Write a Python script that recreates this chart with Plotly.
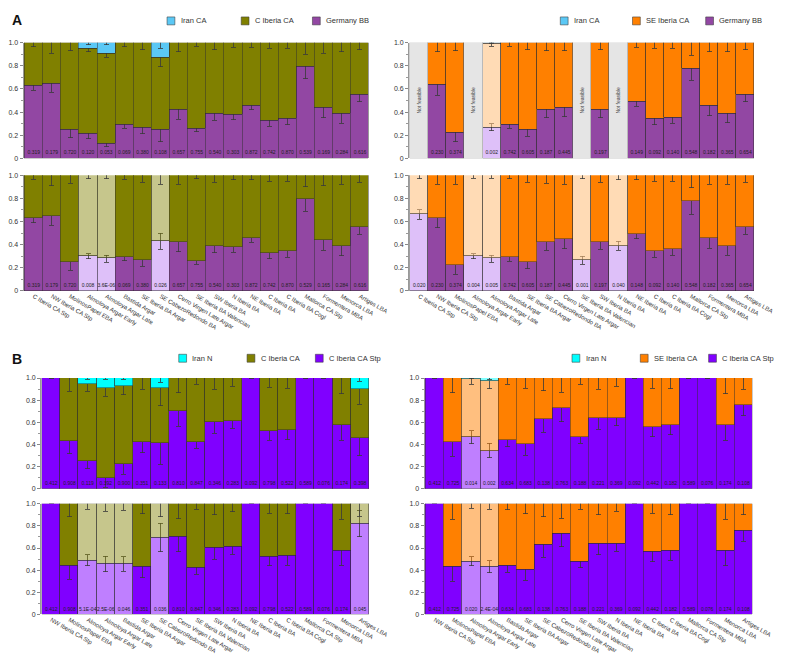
import plotly.graph_objects as go

W, H = 785, 654

# ---------------- categories ----------------
cats_A = ["C Iberia CA Stp", "NW Iberia CA Stp", "MolinosPapel EBA", "Almoloya Argar Early",
          "Almoloya Argar Late", "Bastida Argar", "SE Iberia BA Argar", "SE CabezoRedondo BA",
          "Cerro Virgen Late Argar", "SE Iberia BA Valencian", "SW Iberia BA", "N Iberia BA",
          "NE Iberia BA", "C Iberia BA", "C Iberia BA Cogl", "Mallorca CA Stp", "Formentera MBA",
          "Menorca LBA", "Artiges LBA"]
cats_B = ["NW Iberia CA Stp", "MolinosPapel EBA", "Almoloya Argar Early",
          "Almoloya Argar Late", "Bastida Argar", "SE Iberia BA Argar", "SE CabezoRedondo BA",
          "Cerro Virgen Late Argar", "SE Iberia BA Valencian", "SW Iberia BA", "N Iberia BA",
          "NE Iberia BA", "C Iberia BA", "C Iberia BA Cogl", "Mallorca CA Stp", "Formentera MBA",
          "Menorca LBA", "Artiges LBA"]

# ---------------- Panel A, top-left (Iran CA / C Iberia CA / Germany BB) ----------------
A1_germany = [0.63, 0.65, 0.25, 0.21, 0.13, 0.29, 0.265, 0.245, 0.42, 0.26, 0.39, 0.375, 0.46, 0.33, 0.34, 0.79, 0.44, 0.385, 0.55]
A1_germany_err = [0.04, 0.08, 0.07, 0.04, 0.03, 0.03, 0.05, 0.10, 0.08, 0.03, 0.06, 0.04, 0.04, 0.05, 0.05, 0.10, 0.09, 0.08, 0.06]
A1_ciberia = [0.37, 0.35, 0.75, 0.74, 0.775, 0.71, 0.735, 0.625, 0.58, 0.74, 0.61, 0.625, 0.54, 0.67, 0.66, 0.21, 0.56, 0.615, 0.45]
A1_ciberia_err = [0.035, 0.09, 0.07, 0.03, 0.03, 0.035, 0.06, 0.08, 0.08, 0.03, 0.06, 0.04, 0.04, 0.05, 0.05, 0.10, 0.09, 0.08, 0.06]
A1_iran = [None, None, None, 0.05, 0.095, None, None, 0.13, None, None, None, None, None, None, None, None, None, None, None]
A1_iran_err = [None, None, None, 0.02, 0.02, None, None, 0.05, None, None, None, None, None, None, None, None, None, None, None]
A1_light = [0] * 19
A1_p = ["0.319", "0.179", "0.720", "0.120", "0.053", "0.069", "0.380", "0.108", "0.657", "0.755",
        "0.540", "0.303", "0.872", "0.742", "0.870", "0.539", "0.169", "0.284", "0.616"]

# ---------------- Panel A, bottom-left (C Iberia CA / Germany BB) ----------------
A2_germany = [0.63, 0.65, 0.25, 0.30, 0.28, 0.29, 0.265, 0.43, 0.42, 0.26, 0.39, 0.375, 0.46, 0.33, 0.34, 0.79, 0.44, 0.385, 0.55]
A2_germany_err = [0.04, 0.08, 0.07, 0.02, 0.03, 0.03, 0.05, 0.07, 0.08, 0.03, 0.06, 0.04, 0.04, 0.05, 0.05, 0.10, 0.09, 0.08, 0.06]
A2_ciberia = [0.37, 0.35, 0.75, 0.70, 0.72, 0.71, 0.735, 0.57, 0.58, 0.74, 0.61, 0.625, 0.54, 0.67, 0.66, 0.21, 0.56, 0.615, 0.45]
A2_ciberia_err = [0.035, 0.09, 0.07, 0.03, 0.03, 0.035, 0.06, 0.08, 0.08, 0.03, 0.06, 0.04, 0.04, 0.05, 0.05, 0.10, 0.09, 0.08, 0.06]
A2_light = [0, 0, 0, 1, 1, 0, 0, 1, 0, 0, 0, 0, 0, 0, 0, 0, 0, 0, 0]
A2_p = ["0.319", "0.179", "0.720", "0.008", "3.6E-06", "0.069", "0.380", "0.026", "0.657", "0.755",
        "0.540", "0.303", "0.872", "0.742", "0.870", "0.529", "0.165", "0.284", "0.616"]

# ---------------- Panel A, top-right (Iran CA / SE Iberia CA / Germany BB) ----------------
A3_germany = [None, 0.635, 0.22, None, 0.27, 0.295, 0.25, 0.42, 0.44, None, 0.42, None, 0.49, 0.34, 0.355, 0.775, 0.46, 0.39, 0.55]
A3_germany_err = [None, 0.09, 0.075, None, 0.03, 0.035, 0.06, 0.07, 0.08, None, 0.07, None, 0.04, 0.05, 0.05, 0.10, 0.09, 0.08, 0.06]
A3_seiberia = [None, 0.365, 0.78, None, 0.72, 0.705, 0.75, 0.58, 0.56, None, 0.58, None, 0.51, 0.66, 0.645, 0.225, 0.54, 0.61, 0.45]
A3_seiberia_err = [None, 0.08, 0.07, None, 0.02, 0.03, 0.06, 0.07, 0.07, None, 0.06, None, 0.04, 0.05, 0.05, 0.11, 0.08, 0.08, 0.06]
A3_iran = [None, None, None, None, 0.01, None, None, None, None, None, None, None, None, None, None, None, None, None, None]
A3_iran_err = [None, None, None, None, 0.005, None, None, None, None, None, None, None, None, None, None, None, None, None, None]
A3_light = [0, 0, 0, 0, 1, 0, 0, 0, 0, 0, 0, 0, 0, 0, 0, 0, 0, 0, 0]
A3_notfeasible = [1, None, None, 1, None, None, None, None, None, 1, None, 1, None, None, None, None, None, None, None]
A3_p = [None, "0.230", "0.374", None, "0.002", "0.742", "0.605", "0.187", "0.445", None,
        "0.197", None, "0.149", "0.092", "0.140", "0.548", "0.182", "0.365", "0.654"]

# ---------------- Panel A, bottom-right (SE Iberia CA / Germany BB) ----------------
A4_germany = [0.66, 0.63, 0.22, 0.30, 0.28, 0.295, 0.25, 0.42, 0.445, 0.265, 0.42, 0.39, 0.49, 0.34, 0.36, 0.775, 0.455, 0.39, 0.55]
A4_germany_err = [0.04, 0.085, 0.075, 0.02, 0.03, 0.04, 0.06, 0.07, 0.08, 0.035, 0.06, 0.04, 0.04, 0.05, 0.05, 0.11, 0.085, 0.08, 0.06]
A4_seiberia = [0.34, 0.37, 0.78, 0.70, 0.72, 0.705, 0.75, 0.58, 0.555, 0.735, 0.58, 0.61, 0.51, 0.66, 0.64, 0.225, 0.545, 0.61, 0.45]
A4_seiberia_err = [0.03, 0.08, 0.08, 0.025, 0.025, 0.03, 0.06, 0.07, 0.08, 0.03, 0.06, 0.04, 0.04, 0.05, 0.05, 0.11, 0.08, 0.08, 0.06]
A4_light = [1, 0, 0, 1, 1, 0, 0, 0, 0, 1, 0, 1, 0, 0, 0, 0, 0, 0, 0]
A4_p = ["0.020", "0.230", "0.374", "0.004", "0.005", "0.742", "0.605", "0.187", "0.445", "0.001",
        "0.197", "0.040", "0.148", "0.092", "0.140", "0.548", "0.182", "0.365", "0.654"]

# ---------------- Panel B, top-left (Iran N / C Iberia CA / C Iberia CA Stp) ----------------
B1_stp = [1.0, 0.435, 0.255, 0.095, 0.22, 0.425, 0.41, 0.70, 0.42, 0.60, 0.615, 1.0, 0.525, 0.535, 1.0, 1.0, 0.575, 0.46]
B1_stp_err = [None, 0.12, 0.075, 0.08, 0.09, 0.10, 0.19, 0.135, 0.055, 0.10, 0.07, None, 0.085, 0.09, None, None, 0.135, 0.16]
B1_ciberia = [None, 0.565, 0.695, 0.815, 0.71, 0.575, 0.50, 0.30, 0.58, 0.40, 0.385, None, 0.475, 0.465, None, None, 0.425, 0.44]
B1_ciberia_err = [None, 0.12, 0.07, 0.075, 0.08, 0.10, 0.16, 0.135, 0.055, 0.10, 0.075, None, 0.085, 0.09, None, None, 0.14, 0.135]
B1_iran = [None, None, 0.05, 0.09, 0.07, None, 0.09, None, None, None, None, None, None, None, None, None, None, 0.10]
B1_iran_err = [None, None, 0.01, 0.01, 0.01, None, 0.04, None, None, None, None, None, None, None, None, None, None, 0.03]
B1_light = [0] * 18
B1_p = ["0.412", "0.908", "0.119", "0.392", "0.900", "0.351", "0.133", "0.810", "0.847", "0.346",
        "0.283", "0.092", "0.798", "0.522", "0.589", "0.076", "0.174", "0.398"]

# ---------------- Panel B, bottom-left (C Iberia CA / C Iberia CA Stp) ----------------
B2_stp = [1.0, 0.44, 0.49, 0.455, 0.455, 0.43, 0.695, 0.70, 0.42, 0.60, 0.615, 1.0, 0.525, 0.535, 1.0, 1.0, 0.58, 0.82]
B2_stp_err = [None, 0.12, 0.05, 0.07, 0.065, 0.10, 0.13, 0.135, 0.055, 0.10, 0.07, None, 0.085, 0.09, None, None, 0.135, 0.12]
B2_ciberia = [None, 0.56, 0.51, 0.545, 0.545, 0.57, 0.305, 0.30, 0.58, 0.40, 0.385, None, 0.475, 0.465, None, None, 0.42, 0.18]
B2_ciberia_err = [None, 0.12, 0.05, 0.07, 0.06, 0.09, 0.12, 0.135, 0.05, 0.10, 0.075, None, 0.085, 0.09, None, None, 0.14, 0.115]
B2_light = [0, 0, 1, 1, 1, 0, 1, 0, 0, 0, 0, 0, 0, 0, 0, 0, 0, 1]
B2_p = ["0.412", "0.908", "5.1E-04", "2.5E-06", "0.046", "0.351", "0.036", "0.810", "0.847", "0.346",
        "0.283", "0.092", "0.798", "0.522", "0.589", "0.076", "0.174", "0.045"]

# ---------------- Panel B, top-right (Iran N / SE Iberia CA / C Iberia CA Stp) ----------------
B3_stp = [1.0, 0.425, 0.465, 0.345, 0.44, 0.40, 0.63, 0.73, 0.47, 0.64, 0.64, 1.0, 0.56, 0.58, 1.0, 1.0, 0.58, 0.76]
B3_stp_err = [None, 0.13, 0.06, 0.065, 0.06, 0.095, 0.12, 0.125, 0.06, 0.10, 0.07, None, 0.09, 0.09, None, None, 0.14, 0.10]
B3_seiberia = [None, 0.575, 0.525, 0.625, 0.56, 0.60, 0.37, 0.27, 0.53, 0.36, 0.36, None, 0.44, 0.42, None, None, 0.42, 0.24]
B3_seiberia_err = [None, 0.135, 0.045, 0.065, 0.055, 0.09, 0.115, 0.13, 0.055, 0.10, 0.075, None, 0.09, 0.095, None, None, 0.14, 0.10]
B3_iran = [None, None, 0.01, 0.03, None, None, None, None, None, None, None, None, None, None, None, None, None, None]
B3_iran_err = [None, None, 0.005, 0.01, None, None, None, None, None, None, None, None, None, None, None, None, None, None]
B3_light = [0, 0, 1, 1, 0, 0, 0, 0, 0, 0, 0, 0, 0, 0, 0, 0, 0, 0]
B3_p = ["0.412", "0.725", "0.014", "0.002", "0.634", "0.683", "0.138", "0.763", "0.188", "0.221",
        "0.369", "0.092", "0.442", "0.182", "0.589", "0.076", "0.174", "0.108"]

# ---------------- Panel B, bottom-right (SE Iberia CA / C Iberia CA Stp) ----------------
B4_stp = [1.0, 0.43, 0.48, 0.43, 0.44, 0.40, 0.63, 0.73, 0.475, 0.64, 0.64, 1.0, 0.565, 0.58, 1.0, 1.0, 0.58, 0.76]
B4_stp_err = [None, 0.13, 0.04, 0.055, 0.06, 0.09, 0.115, 0.12, 0.055, 0.10, 0.07, None, 0.09, 0.09, None, None, 0.14, 0.10]
B4_seiberia = [None, 0.57, 0.52, 0.57, 0.56, 0.60, 0.37, 0.27, 0.525, 0.36, 0.36, None, 0.435, 0.42, None, None, 0.42, 0.24]
B4_seiberia_err = [None, 0.14, 0.04, 0.05, 0.055, 0.09, 0.12, 0.13, 0.05, 0.10, 0.07, None, 0.085, 0.10, None, None, 0.14, 0.10]
B4_light = [0, 0, 1, 1, 0, 0, 0, 0, 0, 0, 0, 0, 0, 0, 0, 0, 0, 0]
B4_p = ["0.412", "0.725", "0.020", "2.4E-04", "0.634", "0.683", "0.138", "0.763", "0.188", "0.221",
        "0.369", "0.092", "0.442", "0.182", "0.589", "0.076", "0.174", "0.108"]

# ---------------- colours ----------------
IRAN_CA, IRAN_CA_L = "#5BC8F5", "rgba(91,200,245,0.5)"
OLIVE, OLIVE_L = "#808000", "rgba(128,128,0,0.45)"
GERM, GERM_L = "#9247A3", "rgba(200,150,245,0.6)"
SE, SE_L_A, SE_L_B = "#FF8000", "rgba(255,190,120,0.55)", "rgba(255,128,0,0.5)"
IRAN_N, IRAN_N_L = "#00FFFF", "rgba(0,255,255,0.5)"
STP, STP_L = "#8000FF", "rgba(128,0,255,0.5)"
NF_GRAY = "#E5E5E5"
EDGE = "rgba(45,45,45,0.6)"
ERRC = "#3a3a3a"
FONT = "Liberation Sans, Arial, sans-serif"

panels = [
    dict(ax=1, cats=cats_A, light=A1_light, p=A1_p, nf=None,
         segs=[("Germany BB", A1_germany, A1_germany_err, GERM, GERM_L),
               ("C Iberia CA", A1_ciberia, A1_ciberia_err, OLIVE, OLIVE_L),
               ("Iran CA", A1_iran, A1_iran_err, IRAN_CA, IRAN_CA_L)]),
    dict(ax=2, cats=cats_A, light=A2_light, p=A2_p, nf=None,
         segs=[("Germany BB", A2_germany, A2_germany_err, GERM, GERM_L),
               ("C Iberia CA", A2_ciberia, A2_ciberia_err, OLIVE, OLIVE_L)]),
    dict(ax=3, cats=cats_A, light=A3_light, p=A3_p, nf=A3_notfeasible,
         segs=[("Germany BB", A3_germany, A3_germany_err, GERM, GERM_L),
               ("SE Iberia CA", A3_seiberia, A3_seiberia_err, SE, SE_L_A),
               ("Iran CA", A3_iran, A3_iran_err, IRAN_CA, IRAN_CA_L)]),
    dict(ax=4, cats=cats_A, light=A4_light, p=A4_p, nf=None,
         segs=[("Germany BB", A4_germany, A4_germany_err, GERM, GERM_L),
               ("SE Iberia CA", A4_seiberia, A4_seiberia_err, SE, SE_L_A)]),
    dict(ax=5, cats=cats_B, light=B1_light, p=B1_p, nf=None,
         segs=[("C Iberia CA Stp", B1_stp, B1_stp_err, STP, STP_L),
               ("C Iberia CA", B1_ciberia, B1_ciberia_err, OLIVE, OLIVE_L),
               ("Iran N", B1_iran, B1_iran_err, IRAN_N, IRAN_N_L)]),
    dict(ax=6, cats=cats_B, light=B2_light, p=B2_p, nf=None,
         segs=[("C Iberia CA Stp", B2_stp, B2_stp_err, STP, STP_L),
               ("C Iberia CA", B2_ciberia, B2_ciberia_err, OLIVE, OLIVE_L)]),
    dict(ax=7, cats=cats_B, light=B3_light, p=B3_p, nf=None,
         segs=[("C Iberia CA Stp", B3_stp, B3_stp_err, STP, STP_L),
               ("SE Iberia CA", B3_seiberia, B3_seiberia_err, SE, SE_L_B),
               ("Iran N", B3_iran, B3_iran_err, IRAN_N, IRAN_N_L)]),
    dict(ax=8, cats=cats_B, light=B4_light, p=B4_p, nf=None,
         segs=[("C Iberia CA Stp", B4_stp, B4_stp_err, STP, STP_L),
               ("SE Iberia CA", B4_seiberia, B4_seiberia_err, SE, SE_L_B)]),
]

# pixel layout of the eight panels: (x_left, x_right, y_top(1.0), y_bottom(0))
geom = {
    1: (16, 370, 31, 148), 2: (16, 370, 165, 282),
    3: (411, 765, 31, 148), 4: (411, 765, 165, 282),
    5: (34, 370, 370, 482), 6: (34, 370, 497, 609),
    7: (427, 763, 370, 482), 8: (427, 763, 497, 609),
}
bottom_panels = {2, 4, 6, 8}

fig = go.Figure()
layout = dict(width=W, height=H, margin=dict(l=0, r=0, t=0, b=0), barmode="stack", bargap=0,
              plot_bgcolor="white", paper_bgcolor="white", showlegend=False,
              font=dict(family=FONT, size=7, color="#333"))

for pnl in panels:
    k = pnl["ax"]
    xa = "x" if k == 1 else f"x{k}"
    ya = "y" if k == 1 else f"y{k}"
    n = len(pnl["cats"])
    xs = list(range(n))
    for name, vals, errs, col, lcol in pnl["segs"]:
        colors = [lcol if l else col for l in pnl["light"]]
        fig.add_trace(go.Bar(
            x=xs, y=vals, name=name, xaxis=xa, yaxis=ya,
            marker=dict(color=colors, line=dict(color=EDGE, width=0.8)),
            error_y=dict(type="data", array=errs, visible=True, color=ERRC, thickness=0.8, width=2.5),
            hoverinfo="skip"))
    if pnl["nf"] is not None:
        fig.add_trace(go.Bar(
            x=xs, y=pnl["nf"], name="Not feasible", xaxis=xa, yaxis=ya,
            marker=dict(color=NF_GRAY, line=dict(color="rgba(120,120,120,0.5)", width=0.8)),
            text=["Not feasible" if v else "" for v in pnl["nf"]],
            textposition="inside", insidetextanchor="middle", textangle=-90,
            textfont=dict(size=5, color="#444", family=FONT), hoverinfo="skip"))
    fig.add_trace(go.Scatter(
        x=xs, y=[0.045] * n, mode="text", text=pnl["p"], xaxis=xa, yaxis=ya,
        textfont=dict(size=5, color="#222", family=FONT), hoverinfo="skip"))

    x0, x1, yt, yb = geom[k]
    xkey = "xaxis" if k == 1 else f"xaxis{k}"
    ykey = "yaxis" if k == 1 else f"yaxis{k}"
    layout[xkey] = dict(domain=[x0 / W, x1 / W], range=[-0.56, n - 0.5], anchor=ya,
                        tickmode="array", tickvals=xs, ticktext=pnl["cats"],
                        showticklabels=(k in bottom_panels), tickangle=30, ticks="",
                        tickfont=dict(size=6, color="#333", family=FONT),
                        showgrid=False, zeroline=False, showline=False, fixedrange=True)
    layout[ykey] = dict(domain=[1 - yb / H, 1 - yt / H], range=[0, 1], anchor=xa,
                        tickmode="array", tickvals=[0, 0.2, 0.4, 0.6, 0.8, 1.0],
                        ticktext=["0", "0.2", "0.4", "0.6", "0.8", "1.0"],
                        ticks="outside", ticklen=3, tickwidth=0.8, tickcolor="#888",
                        minor=dict(tickmode="array", tickvals=[0.1, 0.3, 0.5, 0.7, 0.9],
                                   ticks="outside", ticklen=2, tickwidth=0.6, tickcolor="#999"),
                        tickfont=dict(size=7, color="#333", family=FONT),
                        showline=True, linecolor="#999", linewidth=1,
                        showgrid=False, zeroline=False, fixedrange=True)

# ---------------- legends (drawn as swatches + labels) ----------------
legend_items = [
    (9, [(163, "Iran CA", IRAN_CA), (239, "C Iberia CA", OLIVE), (312, "Germany BB", GERM)]),
    (9, [(566, "Iran CA", IRAN_CA), (640, "SE Iberia CA", SE), (715, "Germany BB", GERM)]),
    (350, [(175, "Iran N", IRAN_N), (245, "C Iberia CA", OLIVE), (315, "C Iberia CA Stp", STP)]),
    (350, [(578, "Iran N", IRAN_N), (648, "SE Iberia CA", SE), (718, "C Iberia CA Stp", STP)]),
]
shapes, annotations = [], []
for cy, items in legend_items:
    for lx, label, col in items:
        shapes.append(dict(type="rect", xref="paper", yref="paper",
                           x0=lx / W, x1=(lx + 8) / W, y0=1 - (cy + 4) / H, y1=1 - (cy - 4) / H,
                           fillcolor=col, line=dict(color="rgba(60,60,60,0.7)", width=0.8)))
        annotations.append(dict(text=label, xref="paper", yref="paper", x=(lx + 12) / W,
                                y=1 - cy / H, xanchor="left", yanchor="middle", showarrow=False,
                                font=dict(size=7.5, color="#333", family=FONT)))

annotations.append(dict(text="<b>A</b>", xref="paper", yref="paper", x=2 / W, y=1 - 8 / H,
                        xanchor="left", yanchor="middle", showarrow=False,
                        font=dict(size=14, color="#111", family=FONT)))
annotations.append(dict(text="<b>B</b>", xref="paper", yref="paper", x=2 / W, y=1 - 351 / H,
                        xanchor="left", yanchor="middle", showarrow=False,
                        font=dict(size=14, color="#111", family=FONT)))

layout["shapes"] = shapes
layout["annotations"] = annotations
fig.update_layout(**layout)

fig.write_html("out.html")
